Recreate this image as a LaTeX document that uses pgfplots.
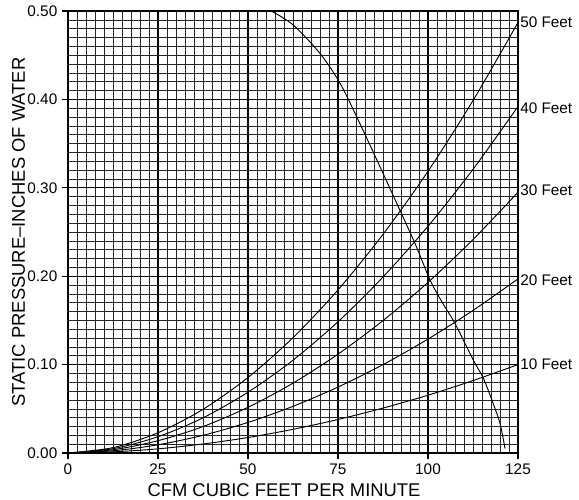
\documentclass[border=0pt]{standalone}
\usepackage{pgfplots}
\pgfplotsset{compat=1.18}
\usepackage{fontspec}
\setmainfont{Liberation Sans}
\begin{document}
\begin{tikzpicture}
\begin{axis}[
  scale only axis, width=337.5pt, height=331.5pt,
  xmin=0, xmax=125, ymin=0, ymax=0.5,
  xtick={0,25,50,75,100,125},
  ytick={0,0.1,0.2,0.3,0.4,0.5},
  minor x tick num=9, minor y tick num=9,
  grid=both,
  major grid style={black, line width=0.9pt},
  minor grid style={black!85, line width=0.45pt},
  axis line style={black, line width=0.8pt},
  tick align=outside, tick pos=left,
  major tick length=4.5pt, minor tick length=0pt,
  tick style={black, line width=0.8pt},
  yticklabel style={/pgf/number format/fixed, /pgf/number format/fixed zerofill, /pgf/number format/precision=2},
  /pgf/number format/assume math mode=true,
  ticklabel style={font=\fontsize{11.5}{13}\selectfont},
  xlabel={CFM CUBIC FEET PER MINUTE},
  ylabel={STATIC PRESSURE–INCHES OF WATER},
  label style={font=\fontsize{13.8}{15}\selectfont},
  xlabel style={at={(axis description cs:0.48,-0.084)}, anchor=center},
  ylabel style={at={(axis description cs:-0.11,0.5)}, anchor=center},
  clip=false,
]
% 50 feet
\addplot[black, line width=0.7pt, smooth] coordinates {
(0,0) (12.5,0.0061) (25,0.0229) (37.5,0.0494) (50,0.0854) (62.5,0.1305) (75,0.1845) (87.5,0.2473) (100,0.3187) (112.5,0.3987) (125,0.487)};
% 40 feet
\addplot[black, line width=0.7pt, smooth] coordinates {
(0,0) (12.5,0.0049) (25,0.0184) (37.5,0.0398) (50,0.0688) (62.5,0.1050) (75,0.1485) (87.5,0.1991) (100,0.2565) (112.5,0.3209) (125,0.392)};
% 30 feet
\addplot[black, line width=0.7pt, smooth] coordinates {
(0,0) (12.5,0.0037) (25,0.0139) (37.5,0.0299) (50,0.0517) (62.5,0.0790) (75,0.1118) (87.5,0.1498) (100,0.1930) (112.5,0.2415) (125,0.295)};
% 20 feet
\addplot[black, line width=0.7pt, smooth] coordinates {
(0,0) (12.5,0.0025) (25,0.0093) (37.5,0.0200) (50,0.0346) (62.5,0.0528) (75,0.0746) (87.5,0.1000) (100,0.1289) (112.5,0.1613) (125,0.197)};
% 10 feet
\addplot[black, line width=0.7pt, smooth] coordinates {
(0,0) (12.5,0.0013) (25,0.0047) (37.5,0.0102) (50,0.0175) (62.5,0.0268) (75,0.0379) (87.5,0.0508) (100,0.0654) (112.5,0.0819) (125,0.100)};
% fan curve
\addplot[black, line width=0.7pt, smooth] coordinates {
(56.5,0.500) (62.6,0.484) (70,0.452) (75.6,0.418) (81.1,0.3725) (86.7,0.3235) (92.2,0.2746) (96.4,0.237) (100.6,0.1955) (104,0.170) (107.5,0.1465) (112.6,0.105) (115.4,0.0844) (118.1,0.056) (120,0.0335) (121.4,0.005)};
\node[anchor=west, font=\fontsize{11.5}{13}\selectfont, inner sep=1.5pt] at (axis cs:125,0.487) {50 Feet};
\node[anchor=west, font=\fontsize{11.5}{13}\selectfont, inner sep=1.5pt] at (axis cs:125,0.390) {40 Feet};
\node[anchor=west, font=\fontsize{11.5}{13}\selectfont, inner sep=1.5pt] at (axis cs:125,0.297) {30 Feet};
\node[anchor=west, font=\fontsize{11.5}{13}\selectfont, inner sep=1.5pt] at (axis cs:125,0.195) {20 Feet};
\node[anchor=west, font=\fontsize{11.5}{13}\selectfont, inner sep=1.5pt] at (axis cs:125,0.100) {10 Feet};
\end{axis}
\pgfresetboundingbox
\path[use as bounding box] ([xshift=-51pt,yshift=-35.25pt]current axis.south west) rectangle ([xshift=45.75pt,yshift=8.25pt]current axis.north east);
\end{tikzpicture}
\end{document}
